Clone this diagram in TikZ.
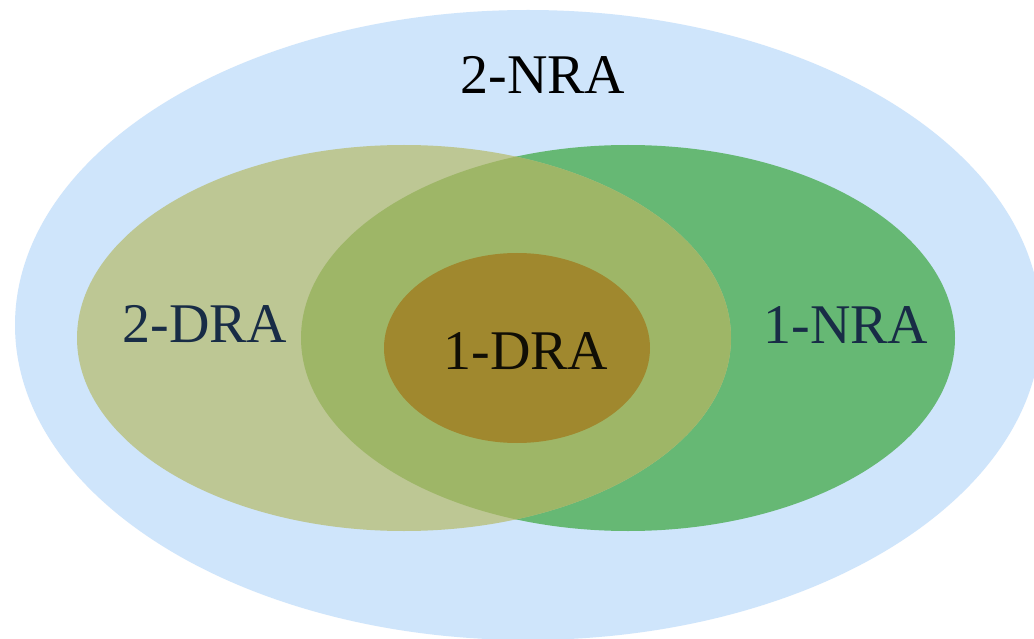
\documentclass[tikz,border=0pt]{standalone}
\usepackage{fontspec}
\setmainfont{Liberation Serif}
\definecolor{outerblue}{RGB}{207,229,251}
\definecolor{olivefill}{RGB}{189,199,148}
\definecolor{greenfill}{RGB}{102,184,116}
\definecolor{overlapfill}{RGB}{158,182,103}
\definecolor{innerfill}{RGB}{160,136,46}
\definecolor{navytext}{RGB}{24,44,70}
\tikzset{
  lbl/.style={font=\fontsize{56}{64}\selectfont, anchor=base, inner sep=0pt},
}
\begin{document}
\begin{tikzpicture}[x=1pt,y=-1pt]
\useasboundingbox (0,0) rectangle (1034,639);
\begin{scope}
\clip (0,0) rectangle (1034,639);
\fill[white] (0,0) rectangle (1034,639);
\fill[outerblue] (528,325) ellipse [x radius=513, y radius=315];
\fill[greenfill] (628,338) ellipse [x radius=327, y radius=193];
\fill[olivefill] (404,338) ellipse [x radius=327, y radius=193];
\begin{scope}
\clip (404,338) ellipse [x radius=327, y radius=193];
\fill[overlapfill] (628,338) ellipse [x radius=327, y radius=193];
\end{scope}
\fill[innerfill] (517,348) ellipse [x radius=133, y radius=95];
\end{scope}
\node[lbl, text=black] (nra2) at (543,94) {2-NRA};
\node[lbl, text=navytext] (dra2) at (205,342) {2-DRA};
\node[lbl, text=black!90!innerfill] (dra1) at (526,369) {1-DRA};
\node[lbl, text=navytext] (nra1) at (846,343) {1-NRA};
\end{tikzpicture}
\end{document}
